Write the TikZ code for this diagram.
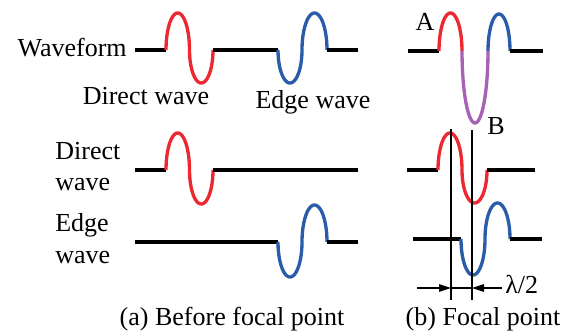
\documentclass[tikz,border=0pt]{standalone}
\usepackage{fontspec}
\setmainfont{Liberation Serif}
\newfontfamily\capfont{Liberation Serif}
\usetikzlibrary{arrows.meta}
\definecolor{waveRed}{HTML}{EC2830}
\definecolor{waveBlue}{HTML}{2A5CAA}
\definecolor{wavePurple}{HTML}{A862B4}
% half period of a wave: colour, start x, base y, width, amplitude (+ up)
\newcommand{\halfwave}[5]{\draw[w, color=#1] plot[domain=0:180, samples=40]
  ({#2+#4/2*(1-cos(\x))}, {#3-#5*sin(\x)});}

\begin{document}
\begin{tikzpicture}[x=0.02cm, y=-0.02cm,
      w/.style={line width=1.9pt},
      flat/.style={line width=1.9pt, color=black},
      guide/.style={line width=0.7pt, color=black},
      dim/.style={line width=0.7pt, -{Triangle[length=2.4mm, width=1.5mm]}},
      txt/.style={font=\capfont\fontsize{14.8}{18.2}\selectfont, inner sep=0pt}]
    \useasboundingbox (0,0) rectangle (571,334);
    % (a) row 1: waveform
    \node[txt, anchor=base east] (wf) at (127,57) {Waveform};
    \draw[flat] (135,50) -- (166,50);
    \halfwave{waveRed}{166}{50}{23.5}{37}
    \halfwave{waveRed}{189.5}{50}{23.5}{-33}
    \draw[flat] (213,50) -- (278,50);
    \halfwave{waveBlue}{278}{50}{24}{-33}
    \halfwave{waveBlue}{302}{50}{25}{37}
    \draw[flat] (327,50) -- (358,50);
    \node[txt, anchor=base] (dwl) at (146,105) {Direct wave};
    \node[txt, anchor=base] (ewl) at (313,109) {Edge wave};
    % (a) row 2: direct wave
    \node[txt, anchor=base west, align=left] (dw) at (55,191) {Direct\\wave};
    \draw[flat] (135,170) -- (166,170);
    \halfwave{waveRed}{166}{170}{23.5}{37}
    \halfwave{waveRed}{189.5}{170}{23.5}{-34}
    \draw[flat] (213,170) -- (358,170);
    % (a) row 3: edge wave
    \node[txt, anchor=base west, align=left] (ew) at (55,263) {Edge\\wave};
    \draw[flat] (135,242) -- (278,242);
    \halfwave{waveBlue}{278}{242}{24}{-35}
    \halfwave{waveBlue}{302}{242}{25}{37}
    \draw[flat] (327,242) -- (358,242);
    \node[txt, anchor=base] (capa) at (232,325) {(a) Before focal point};
    % (b) row 1: sum at the focal point
    \draw[flat] (408,51) -- (439,51);
    \halfwave{waveRed}{439}{51}{23}{38}
    \halfwave{wavePurple}{462}{51}{26}{-72}
    \halfwave{waveBlue}{488}{51}{22}{37}
    \draw[flat] (510,51) -- (543,51);
    \node[txt] (ptA) at (425,22) {A};
    \node[txt] (ptB) at (496,126) {B};
    % (b) row 2: direct wave
    \draw[flat] (407,170) -- (438,170);
    \halfwave{waveRed}{438}{170}{24}{37}
    \halfwave{waveRed}{462}{170}{25}{-33}
    \draw[flat] (487,170) -- (535,170);
    % (b) row 3: edge wave
    \draw[flat] (413,239) -- (461,239);
    \halfwave{waveBlue}{461}{239}{24}{-36}
    \halfwave{waveBlue}{485}{239}{25}{36}
    \draw[flat] (510,239) -- (542,239);
    % guides and lambda/2 spacing
    \coordinate (g1top) at (451,129); \coordinate (g1bot) at (451,300);
    \coordinate (g2top) at (472,130); \coordinate (g2bot) at (472,300);
    \draw[guide] (g1top) -- (g1bot);
    \draw[guide] (g2top) -- (g2bot);
    \coordinate (d1) at (451,288); \coordinate (d2) at (472,288);
    \coordinate (dl) at (417,288); \coordinate (dr) at (502,288);
    \draw[dim] (dl) -- (d1);
    \draw[dim] (dr) -- (d2);
    \draw[guide] (d1) -- (d2);
    \node[txt, anchor=base west] (lam) at (505,293) {λ/2};
    \node[txt, anchor=base] (capb) at (483,325) {(b) Focal point};
  \end{tikzpicture}
\end{document}
